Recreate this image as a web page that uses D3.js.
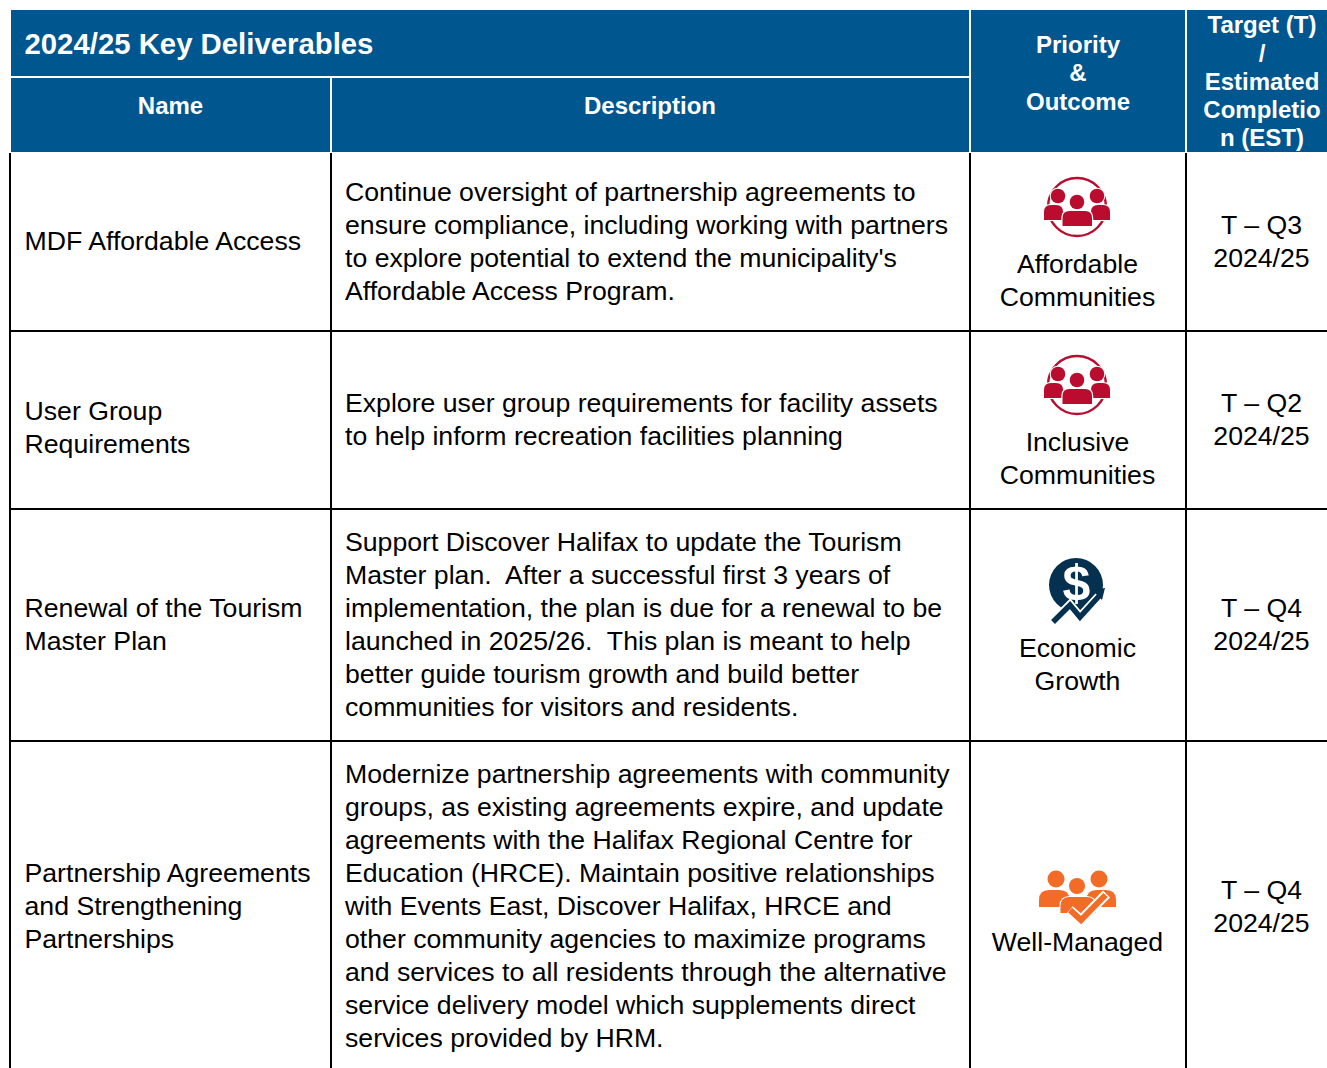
<!DOCTYPE html>
<html><head><meta charset="utf-8">
<script src="https://cdn.jsdelivr.net/npm/d3@7/dist/d3.min.js"></script>
<style>html,body{margin:0;padding:0;background:#fff;overflow:hidden}svg{display:block;font-family:"Liberation Sans",Arial,sans-serif}</style>
</head><body><svg id="c" width="1327" height="1068"></svg>
<script>
const title = "2024/25 Key Deliverables";
const headerName = ["Name"];
const headerDesc = ["Description"];
const headerPriority = ["Priority","&","Outcome"];
const headerTarget = ["Target (T)","/","Estimated","Completio","n (EST)"];
const names = [
  ["MDF Affordable Access"],
  ["User Group","Requirements"],
  ["Renewal of the Tourism","Master Plan"],
  ["Partnership Agreements","and Strengthening","Partnerships"]
];
const descriptions = [
  ["Continue oversight of partnership agreements to","ensure compliance, including working with partners","to explore potential to extend the municipality's","Affordable Access Program."],
  ["Explore user group requirements for facility assets","to help inform recreation facilities planning"],
  ["Support Discover Halifax to update the Tourism","Master plan.  After a successful first 3 years of","implementation, the plan is due for a renewal to be","launched in 2025/26.  This plan is meant to help","better guide tourism growth and build better","communities for visitors and residents."],
  ["Modernize partnership agreements with community","groups, as existing agreements expire, and update","agreements with the Halifax Regional Centre for","Education (HRCE). Maintain positive relationships","with Events East, Discover Halifax, HRCE and","other community agencies to maximize programs","and services to all residents through the alternative","service delivery model which supplements direct","services provided by HRM."]
];
const outcomes = [["Affordable","Communities"],["Inclusive","Communities"],["Economic","Growth"],["Well-Managed"]];
const icons = ["people","people","growth","managed"];
const targets = [["T – Q3","2024/25"],["T – Q2","2024/25"],["T – Q4","2024/25"],["T – Q4","2024/25"]];
const rowEdges = [152,331,509,741,1068];
const colEdges = [10,331,970,1186,1327];

const BLUE="#00568f", RED="#b90c2f", NAVY="#05304f", ORANGE="#f26c27", W="#fff";
const svg=d3.select("#c");
const LH=33;

function lines(g,arr,cx,cy,opt){
  const lh=opt.lh||LH;
  g.append("g").selectAll("text").data(arr).join("text")
   .attr("x",cx).attr("y",(d,i)=>cy+(i-(arr.length-1)/2)*lh)
   .attr("text-anchor",opt.anchor||"middle").attr("font-size",opt.size)
   .attr("font-weight",opt.weight||null).attr("fill",opt.fill||"#000")
   .style("white-space","pre").text(d=>d);
}
// header
svg.append("rect").attr("x",11).attr("y",10).attr("width",1316).attr("height",142).attr("fill",BLUE);
[[11,969,77,77],[331,331,78,152],[970,970,10,152],[1186,1186,10,152]].forEach(l=>
  svg.append("line").attr("x1",l[0]).attr("x2",l[1]).attr("y1",l[2]).attr("y2",l[3]).attr("stroke",W).attr("stroke-width",2));
svg.append("text").attr("x",24.5).attr("y",54).attr("font-size",29.33).attr("font-weight","bold").attr("fill",W).text(title);
const hdr={size:24,weight:"bold",fill:W};
lines(svg,headerName,170.5,114,hdr);
lines(svg,headerDesc,650,114,hdr);
lines(svg,headerPriority,1078,81,{...hdr,lh:28.5});
lines(svg,headerTarget,1262,89.8,{...hdr,lh:28.2});
// grid
colEdges.slice(0,4).forEach(c=>svg.append("line").attr("x1",c).attr("x2",c).attr("y1",153).attr("y2",1068).attr("stroke","#000").attr("stroke-width",2));
rowEdges.slice(1,4).forEach(r=>svg.append("line").attr("x1",10).attr("x2",1327).attr("y1",r).attr("y2",r).attr("stroke","#000").attr("stroke-width",2));

const body=(l,r,t,b,rad)=>`M${l},${b}V${t+rad}Q${l},${t} ${l+rad},${t}H${r-rad}Q${r},${t} ${r},${t+rad}V${b}Z`;
function people(g,cx,cy){
  const c=g.append("g").attr("transform",`translate(${cx},${cy})`);
  c.append("circle").attr("r",29).attr("fill","none").attr("stroke",RED).attr("stroke-width",2.4);
  [[-19,-11],[20,-11]].forEach(h=>c.append("circle").attr("cx",h[0]).attr("cy",h[1]).attr("r",7.3).attr("fill",RED).attr("stroke",W).attr("stroke-width",2).attr("paint-order","stroke"));
  c.append("path").attr("fill",RED).attr("stroke",W).attr("stroke-width",2).attr("paint-order","stroke").attr("d",body(-33,-14,-2,13,7));
  c.append("path").attr("fill",RED).attr("stroke",W).attr("stroke-width",2).attr("paint-order","stroke").attr("d",body(14,33,-2,13,7));
  c.append("circle").attr("cx",0).attr("cy",-5).attr("r",7.3).attr("fill",RED).attr("stroke",W).attr("stroke-width",2).attr("paint-order","stroke");
  c.append("path").attr("fill",RED).attr("stroke",W).attr("stroke-width",2.5).attr("paint-order","stroke").attr("d",body(-14.5,15,4,19,7));
}
function growth(g,cx,cy){
  const c=g.append("g").attr("transform",`translate(${cx},${cy})`);
  c.append("circle").attr("r",27).attr("fill",NAVY);
  c.append("text").attr("x",.5).attr("y",15).attr("text-anchor","middle").attr("font-size",50).attr("font-weight","bold").attr("fill",W).text("$");
  c.append("path").attr("fill","none").attr("stroke",W).attr("stroke-width",9).attr("d","M-23,37L-6,20L4,32L26,8");
  c.append("path").attr("fill","none").attr("stroke",NAVY).attr("stroke-width",5.5).attr("d","M-23,37L-6,20L4,32L24,10");
  c.append("path").attr("fill",NAVY).attr("d","M16,5L29,3L26,15Z");
}
function managed(g,cx,cy){
  const c=g.append("g").attr("transform",`translate(${cx},${cy})`);
  [[-21.5,-14],[21.5,-14]].forEach(h=>c.append("circle").attr("cx",h[0]).attr("cy",h[1]).attr("r",8.5).attr("fill",ORANGE));
  c.append("path").attr("fill",ORANGE).attr("d",body(-38.5,-8,-3,14,10));
  c.append("path").attr("fill",ORANGE).attr("d",body(9,38.5,-3,14,10));
  c.append("circle").attr("cx",-.5).attr("cy",-7).attr("r",8).attr("fill",ORANGE).attr("stroke",W).attr("stroke-width",1.5).attr("paint-order","stroke");
  c.append("path").attr("fill",ORANGE).attr("stroke",W).attr("stroke-width",2).attr("paint-order","stroke").attr("d",body(-17,18,4,20,9));
  c.append("path").attr("fill","none").attr("stroke",W).attr("stroke-width",10).attr("d","M-8,17L3.5,27L29,1");
  c.append("path").attr("fill","none").attr("stroke",ORANGE).attr("stroke-width",6).attr("d","M-7.5,17L3.5,27L28,2");
}
const iconCenters=[[1077,207],[1077,385],[1076,585],[1077.5,893]];
const outcomeCY=[289,467,673,951];
const iconFns={people,growth,managed};
const bodyOpt={size:26.67};
const nameCY=[250,436,633,915];
const descCY=[250.5,428.5,633,915];
const targetCY=[250,428,633,915];
svg.append("g").selectAll("g").data(d3.range(4)).join("g").each(function(i){
  const g=d3.select(this);
  lines(g,names[i],24.5,nameCY[i],{...bodyOpt,anchor:"start"});
  lines(g,descriptions[i],345,descCY[i],{...bodyOpt,anchor:"start"});
  lines(g,outcomes[i],1077.5,outcomeCY[i],bodyOpt);
  lines(g,targets[i],1261.5,targetCY[i],bodyOpt);
  iconFns[icons[i]](g,iconCenters[i][0],iconCenters[i][1]);
});
</script></body></html>
